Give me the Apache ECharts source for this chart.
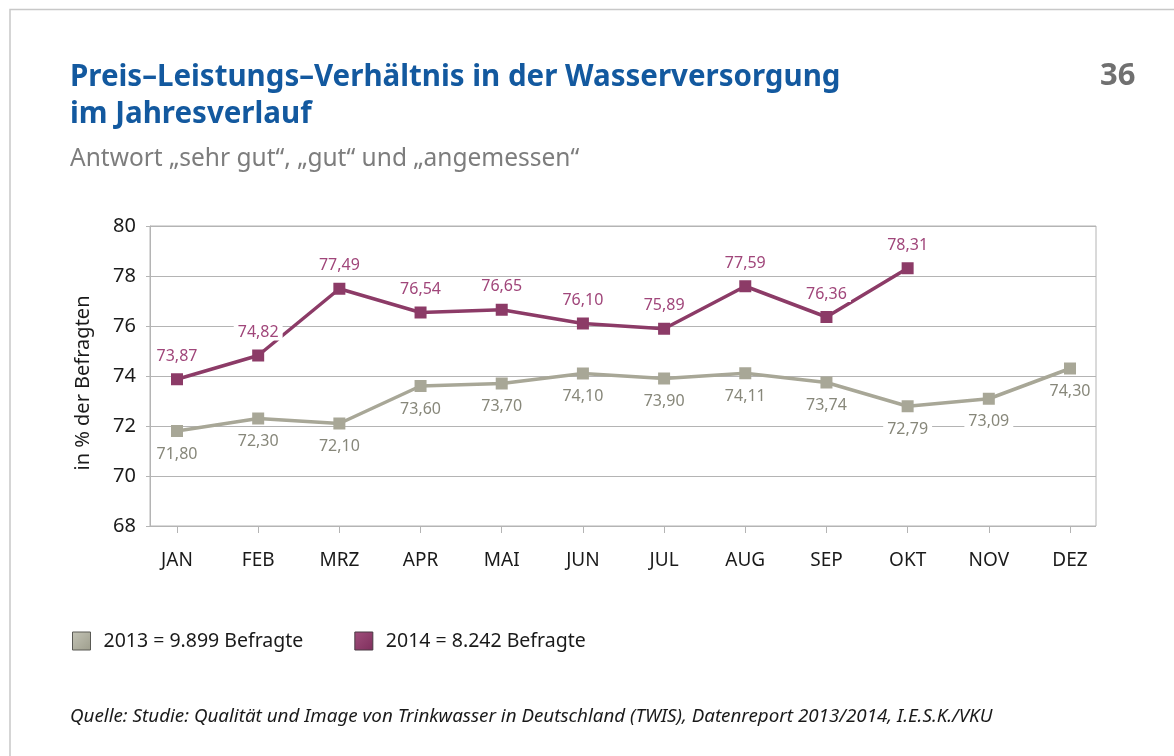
<!DOCTYPE html>
<html>
<head>
<meta charset="utf-8">
<script src="https://cdn.jsdelivr.net/npm/echarts@6/dist/echarts.min.js"></script>
<style>
  html, body { margin: 0; padding: 0; background: #fff; }
  #chart { width: 1174px; height: 756px; }
</style>
</head>
<body>
<div id="chart"></div>
<script>
// Monthly share of respondents rating price/performance positively
const months = ['JAN', 'FEB', 'MRZ', 'APR', 'MAI', 'JUN', 'JUL', 'AUG', 'SEP', 'OKT', 'NOV', 'DEZ'];
const values2013 = [71.80, 72.30, 72.10, 73.60, 73.70, 74.10, 73.90, 74.11, 73.74, 72.79, 73.09, 74.30];
const values2014 = [73.87, 74.82, 77.49, 76.54, 76.65, 76.10, 75.89, 77.59, 76.36, 78.31];
const yTicks = { min: 68, max: 80, step: 2 };
const seriesNames = ['2013 = 9.899 Befragte', '2014 = 8.242 Befragte'];

const FONT = '"Noto Sans", sans-serif';
const GREY_LINE = '#a8a797';
const GREY_TEXT = '#87877a';
const PLUM_LINE = '#8c3b67';
const PLUM_TEXT = '#a0467a';
const AXIS_GREY = '#b4b4b4';

const fmt = v => v.toFixed(2).replace('.', ',');

function labelStyle(color, position) {
  return {
    show: true,
    position: position,
    distance: 9,
    formatter: p => fmt(p.value),
    color: color,
    fontFamily: FONT,
    fontSize: 16,
    backgroundColor: '#ffffff',
    padding: [0, 4]
  };
}

const chart = echarts.init(document.getElementById('chart'), null, { renderer: 'canvas' });

chart.setOption({
  backgroundColor: '#ffffff',
  animation: false,
  title: {
    text: 'Preis–Leistungs–Verhältnis in der Wasserversorgung\nim Jahresverlauf',
    subtext: 'Antwort „sehr gut“, „gut“ und „angemessen“',
    left: 70,
    top: 59,
    padding: 0,
    itemGap: 14,
    textStyle: { fontFamily: FONT, fontWeight: 'bold', fontSize: 29.5, lineHeight: 37, color: '#13599f' },
    subtextStyle: { fontFamily: FONT, fontSize: 24.5, color: '#7d7d7d' }
  },
  legend: {
    left: 72,
    top: 631,
    padding: 0,
    itemWidth: 18,
    itemHeight: 18,
    itemGap: 51,
    selectedMode: false,
    textStyle: { fontFamily: FONT, fontSize: 19.5, color: '#1a1a1a', padding: [0, 0, 0, 8] },
    data: [
      { name: seriesNames[0], icon: 'rect',
        itemStyle: { color: new echarts.graphic.LinearGradient(0, 0, 1, 1, [{ offset: 0, color: '#c4c4b6' }, { offset: 1, color: '#9d9d8c' }]), borderColor: '#5a5a55', borderWidth: 1 } },
      { name: seriesNames[1], icon: 'rect',
        itemStyle: { color: new echarts.graphic.LinearGradient(0, 0, 1, 1, [{ offset: 0, color: '#a04f7c' }, { offset: 1, color: '#7e2e5c' }]), borderColor: '#4a3a44', borderWidth: 1 } }
    ]
  },
  grid: [
    // frame with value gridlines
    { left: 150, right: 78, top: 226, bottom: 230, show: true, borderColor: AXIS_GREY, borderWidth: 1, backgroundColor: 'transparent' },
    // inner area where the months sit
    { left: 177, right: 104, top: 226, bottom: 230 }
  ],
  xAxis: [
    { gridIndex: 0, type: 'value', min: 0, max: 1, show: false },
    {
      gridIndex: 1, type: 'category', data: months, boundaryGap: false,
      axisLine: { show: false },
      axisTick: { show: true, length: 7, lineStyle: { color: AXIS_GREY } },
      axisLabel: { fontFamily: FONT, fontSize: 19, color: '#1a1a1a', margin: 25 },
      splitLine: { show: false }
    }
  ],
  yAxis: [
    {
      gridIndex: 0, type: 'value', min: yTicks.min, max: yTicks.max, interval: yTicks.step,
      axisLine: { show: true, lineStyle: { color: AXIS_GREY } },
      axisTick: { show: true, length: 4, lineStyle: { color: AXIS_GREY } },
      axisLabel: { fontFamily: FONT, fontSize: 20, color: '#1a1a1a', margin: 14 },
      splitLine: { show: true, lineStyle: { color: AXIS_GREY, width: 1 } }
    },
    { gridIndex: 1, type: 'value', min: yTicks.min, max: yTicks.max, interval: yTicks.step, show: false, splitLine: { show: false } }
  ],
  series: [
    {
      name: seriesNames[0], type: 'line', xAxisIndex: 1, yAxisIndex: 1,
      data: values2013,
      symbol: 'rect', symbolSize: 12,
      lineStyle: { color: GREY_LINE, width: 3.5 },
      itemStyle: { color: GREY_LINE },
      label: labelStyle(GREY_TEXT, 'bottom'),
      z: 3
    },
    {
      name: seriesNames[1], type: 'line', xAxisIndex: 1, yAxisIndex: 1,
      data: values2014,
      symbol: 'rect', symbolSize: 12,
      lineStyle: { color: PLUM_LINE, width: 3.5 },
      itemStyle: { color: PLUM_LINE },
      label: labelStyle(PLUM_TEXT, 'top'),
      z: 4
    }
  ],
  graphic: [
    // page frame
    { type: 'polyline', silent: true, shape: { points: [[10, 770], [10, 9.5], [1190, 9.5]] },
      style: { stroke: '#c8c8c8', lineWidth: 1.5, fill: null } },
    { type: 'text', left: 1100, top: 61,
      style: { text: '36', fontFamily: FONT, fontWeight: 'bold', fontSize: 31, fill: '#707070' } },
    { type: 'text', x: 83, y: 383, rotation: Math.PI / 2,
      style: { text: 'in % der Befragten', fontFamily: FONT, fontSize: 20, fill: '#1a1a1a', align: 'center', verticalAlign: 'middle' } },
    { type: 'text', left: 70, top: 707,
      style: { text: 'Quelle: Studie: Qualität und Image von Trinkwasser in Deutschland (TWIS), Datenreport 2013/2014, I.E.S.K./VKU',
               fontFamily: FONT, fontStyle: 'italic', fontSize: 18.8, fill: '#1a1a1a' } }
  ]
});
</script>
</body>
</html>
